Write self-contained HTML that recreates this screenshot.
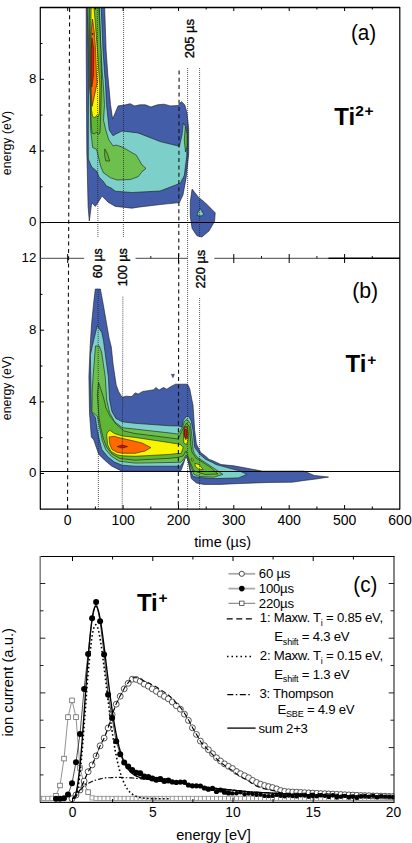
<!DOCTYPE html>
<html><head><meta charset="utf-8"><style>
html,body{margin:0;padding:0;background:#fff;}
svg{display:block;}
svg text{font-family:"Liberation Sans",sans-serif;}
</style></head><body>
<svg width="412" height="843" viewBox="0 0 412 843">
<rect width="412" height="843" fill="#fff"/>
<clipPath id="clipab"><rect x="40.5" y="7.5" width="359" height="501.5"/></clipPath>
<g clip-path="url(#clipab)">
<polygon points="86.2,0.0 86.2,50.0 86.5,100.0 86.8,150.0 88.1,206.4 89.3,221.0 91.7,202.8 95.3,206.4 97.8,202.8 102.0,196.1 108.1,202.2 115.4,206.4 132.0,208.2 138.0,207.2 160.0,204.6 179.4,202.6 183.0,194.9 186.2,177.4 188.7,154.0 188.7,128.8 186.9,112.5 184.7,104.8 181.4,101.6 178.1,105.5 170.5,105.9 164.0,104.2 157.4,104.8 150.9,107.0 145.4,104.8 139.9,104.8 134.5,105.9 130.1,103.7 125.7,104.8 118.1,105.9 112.6,119.0 110.5,104.6 108.3,80.0 107.9,76.0 106.1,50.0 104.4,0.0" fill="#435da8" stroke="#1a1a1a" stroke-width="0.6" stroke-linejoin="round" />
<polygon points="87.0,0.0 88.3,52.0 88.5,95.0 88.3,130.0 88.3,159.1 91.7,166.9 96.6,171.0 99.0,177.0 103.4,181.5 106.3,185.8 111.1,188.0 115.4,191.2 132.0,192.5 160.0,191.0 180.4,183.2 184.3,175.4 186.8,156.0 186.8,128.8 183.3,123.0 182.0,135.0 179.4,146.3 160.0,141.5 138.0,132.9 122.0,131.0 116.0,133.9 113.1,135.8 109.2,130.0 106.5,104.6 105.3,80.0 104.8,76.0 103.0,50.0 100.9,0.0" fill="#7dcfca" stroke="#1a1a1a" stroke-width="0.6" stroke-linejoin="round" />
<polygon points="87.6,0.0 88.8,52.0 89.5,88.0 90.3,95.0 90.7,130.0 92.7,147.5 96.6,149.4 98.0,155.2 100.9,166.9 103.4,172.7 110.2,177.6 117.0,180.0 130.5,179.5 138.3,176.6 142.0,171.7 146.0,168.4 142.0,164.9 136.3,155.2 124.7,148.4 122.0,147.0 116.0,145.0 113.1,146.0 108.7,139.7 105.8,130.0 103.5,120.2 104.5,104.6 103.0,80.0 102.5,76.0 100.9,50.0 99.1,0.0" fill="#6ec04e" stroke="#1a1a1a" stroke-width="0.6" stroke-linejoin="round" />
<polygon points="104.8,148.9 107.5,154.0 109.7,161.0 105.8,161.0 104.6,155.0" fill="#5fb634" stroke="#1a1a1a" stroke-width="0.6" stroke-linejoin="round" />
<polygon points="184.3,140.0 185.3,127.0 187.2,134.0 187.2,146.0 185.5,152.0" fill="#5fb634" stroke="#1a1a1a" stroke-width="0.6" stroke-linejoin="round" />
<polygon points="89.3,0.0 98.5,0.0 101.0,52.0 101.5,80.0 101.0,104.6 100.3,125.0 100.0,133.0 98.5,134.4 96.5,132.0 94.5,134.0 92.0,133.0 91.3,125.0 90.5,104.0 90.2,88.0 89.6,52.0" fill="#5fb634" stroke="#1a1a1a" stroke-width="0.6" stroke-linejoin="round" />
<polygon points="91.2,0.0 93.4,0.0 96.0,32.0 97.4,50.0 99.1,76.0 99.8,85.0 99.6,100.0 99.4,113.0 98.0,117.0 96.5,115.5 94.5,118.0 92.5,116.0 91.5,110.0 91.2,95.0 90.8,80.0 90.6,50.0 91.0,20.0" fill="#fbf400" stroke="#1a1a1a" stroke-width="0.6" stroke-linejoin="round" />
<polygon points="92.5,19.0 94.3,32.0 95.6,50.0 96.5,76.0 97.3,82.0 92.2,106.3 91.3,95.0 91.0,80.0 91.2,50.0 91.2,32.0" fill="#ff6900" stroke="#1a1a1a" stroke-width="0.6" stroke-linejoin="round" />
<polygon points="92.0,38.0 93.8,50.0 93.4,76.0 91.8,87.0 91.2,80.0 91.2,50.0" fill="#ea0f0c" stroke="#1a1a1a" stroke-width="0.6" stroke-linejoin="round" />
<circle cx="92.6" cy="34" r="0.9" fill="#222"/>
<polygon points="192.1,189.1 198.2,197.0 205.5,203.0 215.2,212.8 214.6,221.3 209.0,231.0 201.8,237.0 197.0,235.8 192.1,228.5 190.3,216.4 190.3,201.8" fill="#435da8" stroke="#1a1a1a" stroke-width="0.6" stroke-linejoin="round" />
<polygon points="200.0,208.3 203.9,214.5 201.0,215.9 197.0,215.6 198.5,211.0" fill="#7dcfca" stroke="#1a1a1a" stroke-width="0.6" stroke-linejoin="round" />
<polygon points="95.3,289.0 100.4,289.0 103.3,304.7 109.1,338.2 111.3,347.0 113.1,364.3 116.2,385.0 118.7,391.8 122.0,397.3 126.4,396.2 131.8,396.6 135.1,392.9 138.4,394.0 142.8,391.4 148.2,390.7 153.7,389.7 155.9,387.5 159.1,390.1 163.5,387.5 166.8,389.2 171.1,386.4 175.5,384.2 182.1,384.2 187.5,384.2 189.7,388.6 191.9,399.9 193.0,405.0 194.7,430.5 196.4,444.0 200.7,452.6 206.0,456.5 209.2,459.4 212.4,460.5 221.0,464.5 233.7,465.8 250.7,468.9 262.8,471.2 304.0,471.1 314.2,475.4 328.6,477.1 317.6,478.8 304.0,480.5 292.0,482.2 270.0,482.4 240.0,483.5 220.0,484.4 203.7,484.4 196.4,483.0 191.3,478.6 190.0,471.0 188.5,463.3 186.1,454.5 183.7,463.3 180.7,471.3 122.2,471.3 119.3,469.9 111.5,466.0 104.7,460.2 98.9,454.4 96.0,446.6 93.8,439.9 91.3,437.0 89.5,412.8 88.9,376.4 90.2,345.5 91.6,323.7 93.8,301.8" fill="#435da8" stroke="#1a1a1a" stroke-width="0.6" stroke-linejoin="round" />
<polygon points="97.2,325.9 101.8,332.4 103.4,340.0 108.3,376.4 109.6,400.0 112.0,411.7 115.9,418.4 122.2,421.8 135.0,423.3 170.0,425.8 178.0,425.9 182.0,427.1 183.3,420.3 186.2,416.6 188.8,416.6 191.3,421.1 193.0,430.5 194.7,447.5 199.8,454.3 205.8,459.4 212.0,462.3 216.0,464.5 238.5,470.6 247.0,474.3 238.5,477.9 214.3,478.6 199.0,477.5 193.0,476.4 190.5,470.0 188.8,462.0 186.1,456.5 183.3,462.0 180.5,466.2 135.0,466.2 122.2,465.2 114.4,462.1 107.6,456.6 101.8,449.5 99.4,440.0 97.0,429.1 95.5,417.7 91.3,411.6 90.7,376.0 90.4,355.0 92.4,345.5" fill="#7dcfca" stroke="#1a1a1a" stroke-width="0.6" stroke-linejoin="round" />
<polygon points="95.5,346.0 99.2,346.0 101.6,352.0 105.2,376.4 106.7,400.0 109.6,412.6 114.4,421.4 122.2,427.7 135.0,429.1 170.0,433.0 178.0,434.1 182.8,427.0 184.2,421.5 187.1,419.4 190.5,423.7 192.2,439.0 193.0,449.2 194.3,453.5 198.0,458.0 204.6,462.0 222.8,474.3 214.0,477.2 200.0,476.5 194.0,474.5 191.0,467.0 188.5,459.0 186.1,455.0 183.0,460.0 180.5,462.3 135.0,463.1 119.3,461.2 111.5,456.3 105.7,449.5 102.3,440.8 99.9,429.1 97.4,416.5 91.9,411.6 92.2,390.0 93.1,376.4" fill="#6ec04e" stroke="#1a1a1a" stroke-width="0.6" stroke-linejoin="round" />
<polygon points="98.6,382.5 103.4,397.0 106.0,408.0 110.0,416.0 116.0,424.0 124.0,431.0 135.0,433.5 170.0,437.9 178.0,439.0 183.5,428.0 186.5,423.0 189.8,427.0 190.8,445.0 192.0,452.0 196.0,458.0 210.0,467.0 218.0,474.0 205.0,474.5 194.0,471.0 190.0,462.0 187.5,455.0 186.0,451.0 183.0,456.0 178.0,457.4 170.0,458.3 135.0,460.2 120.0,458.5 112.0,454.0 106.5,447.0 103.5,439.0 101.0,429.0 99.0,417.7 97.3,394.6" fill="#5fb634" stroke="#1a1a1a" stroke-width="0.6" stroke-linejoin="round" />
<polygon points="107.1,433.0 109.6,430.1 114.4,433.5 122.2,435.9 135.0,437.4 170.0,442.7 177.0,443.8 181.0,444.8 183.2,447.7 181.0,453.5 177.0,453.5 170.0,454.4 135.0,456.3 122.2,455.8 117.3,454.9 111.0,451.5 107.6,444.7 106.7,435.0" fill="#fbf400" stroke="#1a1a1a" stroke-width="0.6" stroke-linejoin="round" />
<polygon points="194.8,463.3 199.0,464.5 203.1,469.6 199.0,469.4 195.5,466.5" fill="#fbf400" stroke="#1a1a1a" stroke-width="0.6" stroke-linejoin="round" />
<polygon points="191.4,458.4 193.4,459.5 193.0,461.3 191.4,460.5" fill="#fbf400" stroke="#1a1a1a" stroke-width="0.6" stroke-linejoin="round" />
<polygon points="184.2,427.0 187.4,426.5 188.3,434.0 187.8,441.0 186.5,444.5 183.8,443.0 183.5,434.0" fill="#fbf400" stroke="#1a1a1a" stroke-width="0.6" stroke-linejoin="round" />
<polygon points="109.1,436.9 114.4,436.4 120.2,437.9 132.0,440.6 142.0,443.0 150.9,447.6 145.0,451.0 135.0,453.3 122.2,453.2 117.3,452.4 112.0,449.5 109.6,443.7" fill="#ff6900" stroke="#1a1a1a" stroke-width="0.6" stroke-linejoin="round" />
<polygon points="184.5,427.5 187.0,427.0 187.8,433.0 187.3,438.5 185.5,439.5 184.3,434.0" fill="#ff6900" stroke="#1a1a1a" stroke-width="0.6" stroke-linejoin="round" />
<polygon points="117.3,446.6 122.2,445.1 127.5,446.6 122.2,448.1" fill="#ea0f0c" stroke="#1a1a1a" stroke-width="0.6" stroke-linejoin="round" />
<polygon points="184.6,429.5 186.4,429.3 186.8,434.0 186.2,438.0 185.0,438.0 184.4,434.0" fill="#ea0f0c" stroke="#1a1a1a" stroke-width="0.6" stroke-linejoin="round" />
<polygon points="171.3,374.3 174.5,374.3 172.9,377.8" fill="#435da8" stroke="#1a1a1a" stroke-width="0.4"/>
</g>
<line x1="69.6" y1="8" x2="67.5" y2="509" stroke="#111" stroke-width="1.1" stroke-dasharray="4 3.3"/>
<line x1="179.1" y1="70.5" x2="178.3" y2="509" stroke="#111" stroke-width="1.1" stroke-dasharray="4 3.3"/>
<line x1="97.3" y1="8" x2="97.9" y2="237.5" stroke="#222" stroke-width="0.75" stroke-dasharray="1 1"/>
<line x1="98.1" y1="290" x2="98.4" y2="509" stroke="#222" stroke-width="0.75" stroke-dasharray="1 1"/>
<line x1="123.6" y1="8" x2="123.4" y2="237.5" stroke="#222" stroke-width="0.75" stroke-dasharray="1 1"/>
<line x1="122.9" y1="296.7" x2="122.2" y2="509" stroke="#222" stroke-width="0.75" stroke-dasharray="1 1"/>
<line x1="187.6" y1="68" x2="187.6" y2="509" stroke="#222" stroke-width="0.75" stroke-dasharray="1 1"/>
<line x1="199.6" y1="68" x2="199.6" y2="237" stroke="#222" stroke-width="0.75" stroke-dasharray="1 1"/>
<line x1="199.6" y1="298" x2="199.6" y2="509" stroke="#222" stroke-width="0.75" stroke-dasharray="1 1"/>
<line x1="40" y1="7.5" x2="400" y2="7.5" stroke="#000" fill="none" stroke-width="1.3"/>
<line x1="40.3" y1="7" x2="40.3" y2="509.5" stroke="#000" fill="none" stroke-width="1.2"/>
<line x1="399.8" y1="7" x2="399.8" y2="509.5" stroke="#000" fill="none" stroke-width="1.2"/>
<line x1="40" y1="509.2" x2="400" y2="509.2" stroke="#000" fill="none" stroke-width="1.2"/>
<line x1="40" y1="222.5" x2="399" y2="222.5" stroke="#000" fill="none" stroke-width="1.1"/>
<line x1="40" y1="471.5" x2="400" y2="471.5" stroke="#000" fill="none" stroke-width="1.0"/>
<line x1="40" y1="258.3" x2="84.2" y2="258.3" stroke="#333" stroke-width="0.9"/>
<line x1="135.5" y1="258.3" x2="188" y2="258.3" stroke="#333" stroke-width="0.9"/>
<line x1="214.3" y1="258.3" x2="329" y2="258.3" stroke="#333" stroke-width="0.9"/>
<line x1="328.5" y1="258.3" x2="400" y2="258.3" stroke="#000" stroke-width="1.6"/>
<line x1="67.7" y1="7" x2="67.7" y2="11.0" stroke="#000" stroke-width="1"/>
<line x1="67.7" y1="509" x2="67.7" y2="505.0" stroke="#000" stroke-width="1"/>
<line x1="67.7" y1="254" x2="67.7" y2="263" stroke="#000" stroke-width="1"/>
<line x1="95.4" y1="7" x2="95.4" y2="9.5" stroke="#000" stroke-width="1"/>
<line x1="95.4" y1="509" x2="95.4" y2="506.5" stroke="#000" stroke-width="1"/>
<line x1="123.1" y1="7" x2="123.1" y2="11.0" stroke="#000" stroke-width="1"/>
<line x1="123.1" y1="509" x2="123.1" y2="505.0" stroke="#000" stroke-width="1"/>
<line x1="150.8" y1="7" x2="150.8" y2="9.5" stroke="#000" stroke-width="1"/>
<line x1="150.8" y1="509" x2="150.8" y2="506.5" stroke="#000" stroke-width="1"/>
<line x1="150.8" y1="256" x2="150.8" y2="258.3" stroke="#000" stroke-width="0.9"/>
<line x1="178.5" y1="7" x2="178.5" y2="11.0" stroke="#000" stroke-width="1"/>
<line x1="178.5" y1="509" x2="178.5" y2="505.0" stroke="#000" stroke-width="1"/>
<line x1="178.5" y1="254" x2="178.5" y2="263" stroke="#000" stroke-width="1"/>
<line x1="206.2" y1="7" x2="206.2" y2="9.5" stroke="#000" stroke-width="1"/>
<line x1="206.2" y1="509" x2="206.2" y2="506.5" stroke="#000" stroke-width="1"/>
<line x1="233.8" y1="7" x2="233.8" y2="11.0" stroke="#000" stroke-width="1"/>
<line x1="233.8" y1="509" x2="233.8" y2="505.0" stroke="#000" stroke-width="1"/>
<line x1="233.8" y1="254" x2="233.8" y2="263" stroke="#000" stroke-width="1"/>
<line x1="261.5" y1="7" x2="261.5" y2="9.5" stroke="#000" stroke-width="1"/>
<line x1="261.5" y1="509" x2="261.5" y2="506.5" stroke="#000" stroke-width="1"/>
<line x1="261.5" y1="256" x2="261.5" y2="258.3" stroke="#000" stroke-width="0.9"/>
<line x1="289.2" y1="7" x2="289.2" y2="11.0" stroke="#000" stroke-width="1"/>
<line x1="289.2" y1="509" x2="289.2" y2="505.0" stroke="#000" stroke-width="1"/>
<line x1="289.2" y1="254" x2="289.2" y2="263" stroke="#000" stroke-width="1"/>
<line x1="316.9" y1="7" x2="316.9" y2="9.5" stroke="#000" stroke-width="1"/>
<line x1="316.9" y1="509" x2="316.9" y2="506.5" stroke="#000" stroke-width="1"/>
<line x1="316.9" y1="256" x2="316.9" y2="258.3" stroke="#000" stroke-width="0.9"/>
<line x1="344.6" y1="7" x2="344.6" y2="11.0" stroke="#000" stroke-width="1"/>
<line x1="344.6" y1="509" x2="344.6" y2="505.0" stroke="#000" stroke-width="1"/>
<line x1="344.6" y1="254" x2="344.6" y2="263" stroke="#000" stroke-width="1"/>
<line x1="372.3" y1="7" x2="372.3" y2="9.5" stroke="#000" stroke-width="1"/>
<line x1="372.3" y1="509" x2="372.3" y2="506.5" stroke="#000" stroke-width="1"/>
<line x1="372.3" y1="256" x2="372.3" y2="258.3" stroke="#000" stroke-width="0.9"/>
<line x1="40" y1="222.6" x2="44" y2="222.6" stroke="#000" stroke-width="1"/>
<line x1="40" y1="186.8" x2="42.5" y2="186.8" stroke="#000" stroke-width="1"/>
<line x1="40" y1="151.0" x2="44" y2="151.0" stroke="#000" stroke-width="1"/>
<line x1="40" y1="115.1" x2="42.5" y2="115.1" stroke="#000" stroke-width="1"/>
<line x1="40" y1="79.3" x2="44" y2="79.3" stroke="#000" stroke-width="1"/>
<line x1="40" y1="43.5" x2="42.5" y2="43.5" stroke="#000" stroke-width="1"/>
<line x1="40" y1="473.5" x2="44" y2="473.5" stroke="#000" stroke-width="1"/>
<line x1="40" y1="437.7" x2="42.5" y2="437.7" stroke="#000" stroke-width="1"/>
<line x1="40" y1="401.9" x2="44" y2="401.9" stroke="#000" stroke-width="1"/>
<line x1="40" y1="366.0" x2="42.5" y2="366.0" stroke="#000" stroke-width="1"/>
<line x1="40" y1="330.2" x2="44" y2="330.2" stroke="#000" stroke-width="1"/>
<line x1="40" y1="294.4" x2="42.5" y2="294.4" stroke="#000" stroke-width="1"/>
<text x="36.4" y="226.1" font-size="13.3" text-anchor="end" font-family="Liberation Sans, sans-serif" >0</text>
<text x="36.4" y="154.45999999999998" font-size="13.3" text-anchor="end" font-family="Liberation Sans, sans-serif" >4</text>
<text x="36.4" y="82.82" font-size="13.3" text-anchor="end" font-family="Liberation Sans, sans-serif" >8</text>
<text x="36.4" y="477.0" font-size="13.3" text-anchor="end" font-family="Liberation Sans, sans-serif" >0</text>
<text x="36.4" y="405.36" font-size="13.3" text-anchor="end" font-family="Liberation Sans, sans-serif" >4</text>
<text x="36.4" y="333.72" font-size="13.3" text-anchor="end" font-family="Liberation Sans, sans-serif" >8</text>
<text x="36.4" y="262.08" font-size="13.3" text-anchor="end" font-family="Liberation Sans, sans-serif" >12</text>
<text transform="translate(10.5,143) rotate(-90)" font-size="12.3" text-anchor="middle" font-family="Liberation Sans, sans-serif">energy (eV)</text>
<text transform="translate(10.5,388) rotate(-90)" font-size="12.3" text-anchor="middle" font-family="Liberation Sans, sans-serif">energy (eV)</text>
<text x="67.7" y="525" font-size="14" text-anchor="middle" font-family="Liberation Sans, sans-serif" >0</text>
<text x="123.1" y="525" font-size="14" text-anchor="middle" font-family="Liberation Sans, sans-serif" >100</text>
<text x="178.5" y="525" font-size="14" text-anchor="middle" font-family="Liberation Sans, sans-serif" >200</text>
<text x="233.8" y="525" font-size="14" text-anchor="middle" font-family="Liberation Sans, sans-serif" >300</text>
<text x="289.2" y="525" font-size="14" text-anchor="middle" font-family="Liberation Sans, sans-serif" >400</text>
<text x="344.6" y="525" font-size="14" text-anchor="middle" font-family="Liberation Sans, sans-serif" >500</text>
<text x="400.0" y="525" font-size="14" text-anchor="middle" font-family="Liberation Sans, sans-serif" >600</text>
<text x="222.7" y="546.5" font-size="14.5" text-anchor="middle" font-family="Liberation Sans, sans-serif" >time (µs)</text>
<text x="363.6" y="39.8" font-size="22.5" text-anchor="middle" font-family="Liberation Sans, sans-serif" textLength="25.3" lengthAdjust="spacingAndGlyphs">(a)</text>
<text x="365.2" y="297.5" font-size="22.5" text-anchor="middle" font-family="Liberation Sans, sans-serif" textLength="26" lengthAdjust="spacingAndGlyphs">(b)</text>
<text x="334.3" y="124.5" font-size="24" font-weight="bold" font-family="Liberation Sans, sans-serif">Ti<tspan font-size="15.5" dy="-8.5" letter-spacing="0.6">2+</tspan></text>
<text x="345.6" y="372.2" font-size="24" font-weight="bold" font-family="Liberation Sans, sans-serif">Ti<tspan font-size="15.5" dy="-7.5" dx="0.8">+</tspan></text>
<text transform="translate(194.2,38.6) rotate(-90)" font-size="12.6" text-anchor="middle" stroke="#000" stroke-width="0.35" font-family="Liberation Sans, sans-serif" textLength="39.3" lengthAdjust="spacingAndGlyphs">205 µs</text>
<text transform="translate(102.3,263.3) rotate(-90)" font-size="12.2" text-anchor="middle" stroke="#000" stroke-width="0.35" font-family="Liberation Sans, sans-serif" textLength="30" lengthAdjust="spacingAndGlyphs">60 µs</text>
<text transform="translate(127.4,267.3) rotate(-90)" font-size="12.2" text-anchor="middle" stroke="#000" stroke-width="0.35" font-family="Liberation Sans, sans-serif" textLength="38" lengthAdjust="spacingAndGlyphs">100 µs</text>
<text transform="translate(205.2,269.2) rotate(-90)" font-size="12.4" text-anchor="middle" stroke="#000" stroke-width="0.35" font-family="Liberation Sans, sans-serif" textLength="38.8" lengthAdjust="spacingAndGlyphs">220 µs</text>
<clipPath id="clipc"><rect x="40" y="556" width="354.5" height="246"/></clipPath>
<g clip-path="url(#clipc)">
<polyline points="39.9,798.4 43.9,798.4 47.9,798.4 52.0,798.3 56.0,795.7 60.0,785.5 64.0,758.6 68.0,717.1 72.0,700.4 76.0,717.1 80.0,768.0 84.1,783.7 88.1,792.1 92.1,797.9 96.1,798.4 100.1,798.4 104.1,798.4 108.1,798.4 112.1,798.4 116.2,798.4 120.2,798.4 124.2,798.4 128.2,798.4 132.2,798.4 136.2,798.4 140.2,798.4 144.2,798.4 148.3,798.4 152.3,798.4 156.3,798.4 160.3,798.4 164.3,798.4 168.3,798.4 172.3,798.4 176.3,798.4 180.4,798.4 184.4,798.4 188.4,798.4 192.4,798.4 196.4,798.4 200.4,798.4 204.4,798.4 208.4,798.4 212.5,798.4 216.5,798.4 220.5,798.4 224.5,798.4 228.5,798.4 232.5,798.4 236.5,798.4 240.5,798.4 244.6,798.4 248.6,798.4 252.6,798.4 256.6,798.4 260.6,798.4 264.6,798.4 268.6,798.4 272.6,798.4 276.7,798.4 280.7,798.4 284.7,798.4 288.7,798.4 292.7,798.4 296.7,798.4 300.7,798.4 304.7,798.4 308.8,798.4 312.8,798.4 316.8,798.4 320.8,798.4 324.8,798.4 328.8,798.4 332.8,798.4 336.8,798.4 340.9,798.4 344.9,798.4 348.9,798.4 352.9,798.4 356.9,798.4 360.9,798.4 364.9,798.4 368.9,798.4 373.0,798.4 377.0,798.4 381.0,798.4 385.0,798.4 389.0,798.4 393.0,798.4" fill="none" stroke="#777" stroke-width="0.8"/>
<rect x="37.8" y="796.3" width="4.2" height="4.2" fill="#fff" stroke="#8a8a8a" stroke-width="0.8"/>
<rect x="41.8" y="796.3" width="4.2" height="4.2" fill="#fff" stroke="#8a8a8a" stroke-width="0.8"/>
<rect x="45.8" y="796.3" width="4.2" height="4.2" fill="#fff" stroke="#8a8a8a" stroke-width="0.8"/>
<rect x="49.9" y="796.2" width="4.2" height="4.2" fill="#fff" stroke="#8a8a8a" stroke-width="0.8"/>
<rect x="53.7" y="793.4" width="4.6" height="4.6" fill="#fff" stroke="#666" stroke-width="0.8"/>
<rect x="57.7" y="783.2" width="4.6" height="4.6" fill="#fff" stroke="#666" stroke-width="0.8"/>
<rect x="61.7" y="756.3" width="4.6" height="4.6" fill="#fff" stroke="#666" stroke-width="0.8"/>
<rect x="65.7" y="714.8" width="4.6" height="4.6" fill="#fff" stroke="#666" stroke-width="0.8"/>
<rect x="69.7" y="698.1" width="4.6" height="4.6" fill="#fff" stroke="#666" stroke-width="0.8"/>
<rect x="73.7" y="714.8" width="4.6" height="4.6" fill="#fff" stroke="#666" stroke-width="0.8"/>
<rect x="77.7" y="765.7" width="4.6" height="4.6" fill="#fff" stroke="#666" stroke-width="0.8"/>
<rect x="81.8" y="781.4" width="4.6" height="4.6" fill="#fff" stroke="#666" stroke-width="0.8"/>
<rect x="85.8" y="789.8" width="4.6" height="4.6" fill="#fff" stroke="#666" stroke-width="0.8"/>
<rect x="90.0" y="795.8" width="4.2" height="4.2" fill="#fff" stroke="#8a8a8a" stroke-width="0.8"/>
<rect x="94.0" y="796.3" width="4.2" height="4.2" fill="#fff" stroke="#8a8a8a" stroke-width="0.8"/>
<rect x="98.0" y="796.3" width="4.2" height="4.2" fill="#fff" stroke="#8a8a8a" stroke-width="0.8"/>
<rect x="102.0" y="796.3" width="4.2" height="4.2" fill="#fff" stroke="#8a8a8a" stroke-width="0.8"/>
<rect x="106.0" y="796.3" width="4.2" height="4.2" fill="#fff" stroke="#8a8a8a" stroke-width="0.8"/>
<rect x="110.0" y="796.3" width="4.2" height="4.2" fill="#fff" stroke="#8a8a8a" stroke-width="0.8"/>
<rect x="114.1" y="796.3" width="4.2" height="4.2" fill="#fff" stroke="#8a8a8a" stroke-width="0.8"/>
<rect x="118.1" y="796.3" width="4.2" height="4.2" fill="#fff" stroke="#8a8a8a" stroke-width="0.8"/>
<rect x="122.1" y="796.3" width="4.2" height="4.2" fill="#fff" stroke="#8a8a8a" stroke-width="0.8"/>
<rect x="126.1" y="796.3" width="4.2" height="4.2" fill="#fff" stroke="#8a8a8a" stroke-width="0.8"/>
<rect x="130.1" y="796.3" width="4.2" height="4.2" fill="#fff" stroke="#8a8a8a" stroke-width="0.8"/>
<rect x="134.1" y="796.3" width="4.2" height="4.2" fill="#fff" stroke="#8a8a8a" stroke-width="0.8"/>
<rect x="138.1" y="796.3" width="4.2" height="4.2" fill="#fff" stroke="#8a8a8a" stroke-width="0.8"/>
<rect x="142.1" y="796.3" width="4.2" height="4.2" fill="#fff" stroke="#8a8a8a" stroke-width="0.8"/>
<rect x="146.2" y="796.3" width="4.2" height="4.2" fill="#fff" stroke="#8a8a8a" stroke-width="0.8"/>
<rect x="150.2" y="796.3" width="4.2" height="4.2" fill="#fff" stroke="#8a8a8a" stroke-width="0.8"/>
<rect x="154.2" y="796.3" width="4.2" height="4.2" fill="#fff" stroke="#8a8a8a" stroke-width="0.8"/>
<rect x="158.2" y="796.3" width="4.2" height="4.2" fill="#fff" stroke="#8a8a8a" stroke-width="0.8"/>
<rect x="162.2" y="796.3" width="4.2" height="4.2" fill="#fff" stroke="#8a8a8a" stroke-width="0.8"/>
<rect x="166.2" y="796.3" width="4.2" height="4.2" fill="#fff" stroke="#8a8a8a" stroke-width="0.8"/>
<rect x="170.2" y="796.3" width="4.2" height="4.2" fill="#fff" stroke="#8a8a8a" stroke-width="0.8"/>
<rect x="174.2" y="796.3" width="4.2" height="4.2" fill="#fff" stroke="#8a8a8a" stroke-width="0.8"/>
<rect x="178.3" y="796.3" width="4.2" height="4.2" fill="#fff" stroke="#8a8a8a" stroke-width="0.8"/>
<rect x="182.3" y="796.3" width="4.2" height="4.2" fill="#fff" stroke="#8a8a8a" stroke-width="0.8"/>
<rect x="186.3" y="796.3" width="4.2" height="4.2" fill="#fff" stroke="#8a8a8a" stroke-width="0.8"/>
<rect x="190.3" y="796.3" width="4.2" height="4.2" fill="#fff" stroke="#8a8a8a" stroke-width="0.8"/>
<rect x="194.3" y="796.3" width="4.2" height="4.2" fill="#fff" stroke="#8a8a8a" stroke-width="0.8"/>
<rect x="198.3" y="796.3" width="4.2" height="4.2" fill="#fff" stroke="#8a8a8a" stroke-width="0.8"/>
<rect x="202.3" y="796.3" width="4.2" height="4.2" fill="#fff" stroke="#8a8a8a" stroke-width="0.8"/>
<rect x="206.3" y="796.3" width="4.2" height="4.2" fill="#fff" stroke="#8a8a8a" stroke-width="0.8"/>
<rect x="210.4" y="796.3" width="4.2" height="4.2" fill="#fff" stroke="#8a8a8a" stroke-width="0.8"/>
<rect x="214.4" y="796.3" width="4.2" height="4.2" fill="#fff" stroke="#8a8a8a" stroke-width="0.8"/>
<rect x="218.4" y="796.3" width="4.2" height="4.2" fill="#fff" stroke="#8a8a8a" stroke-width="0.8"/>
<rect x="222.4" y="796.3" width="4.2" height="4.2" fill="#fff" stroke="#8a8a8a" stroke-width="0.8"/>
<rect x="226.4" y="796.3" width="4.2" height="4.2" fill="#fff" stroke="#8a8a8a" stroke-width="0.8"/>
<rect x="230.4" y="796.3" width="4.2" height="4.2" fill="#fff" stroke="#8a8a8a" stroke-width="0.8"/>
<rect x="234.4" y="796.3" width="4.2" height="4.2" fill="#fff" stroke="#8a8a8a" stroke-width="0.8"/>
<rect x="238.4" y="796.3" width="4.2" height="4.2" fill="#fff" stroke="#8a8a8a" stroke-width="0.8"/>
<rect x="242.5" y="796.3" width="4.2" height="4.2" fill="#fff" stroke="#8a8a8a" stroke-width="0.8"/>
<rect x="246.5" y="796.3" width="4.2" height="4.2" fill="#fff" stroke="#8a8a8a" stroke-width="0.8"/>
<rect x="250.5" y="796.3" width="4.2" height="4.2" fill="#fff" stroke="#8a8a8a" stroke-width="0.8"/>
<rect x="254.5" y="796.3" width="4.2" height="4.2" fill="#fff" stroke="#8a8a8a" stroke-width="0.8"/>
<rect x="258.5" y="796.3" width="4.2" height="4.2" fill="#fff" stroke="#8a8a8a" stroke-width="0.8"/>
<rect x="262.5" y="796.3" width="4.2" height="4.2" fill="#fff" stroke="#8a8a8a" stroke-width="0.8"/>
<rect x="266.5" y="796.3" width="4.2" height="4.2" fill="#fff" stroke="#8a8a8a" stroke-width="0.8"/>
<rect x="270.5" y="796.3" width="4.2" height="4.2" fill="#fff" stroke="#8a8a8a" stroke-width="0.8"/>
<rect x="274.6" y="796.3" width="4.2" height="4.2" fill="#fff" stroke="#8a8a8a" stroke-width="0.8"/>
<rect x="278.6" y="796.3" width="4.2" height="4.2" fill="#fff" stroke="#8a8a8a" stroke-width="0.8"/>
<rect x="282.6" y="796.3" width="4.2" height="4.2" fill="#fff" stroke="#8a8a8a" stroke-width="0.8"/>
<rect x="286.6" y="796.3" width="4.2" height="4.2" fill="#fff" stroke="#8a8a8a" stroke-width="0.8"/>
<rect x="290.6" y="796.3" width="4.2" height="4.2" fill="#fff" stroke="#8a8a8a" stroke-width="0.8"/>
<rect x="294.6" y="796.3" width="4.2" height="4.2" fill="#fff" stroke="#8a8a8a" stroke-width="0.8"/>
<rect x="298.6" y="796.3" width="4.2" height="4.2" fill="#fff" stroke="#8a8a8a" stroke-width="0.8"/>
<rect x="302.6" y="796.3" width="4.2" height="4.2" fill="#fff" stroke="#8a8a8a" stroke-width="0.8"/>
<rect x="306.7" y="796.3" width="4.2" height="4.2" fill="#fff" stroke="#8a8a8a" stroke-width="0.8"/>
<rect x="310.7" y="796.3" width="4.2" height="4.2" fill="#fff" stroke="#8a8a8a" stroke-width="0.8"/>
<rect x="314.7" y="796.3" width="4.2" height="4.2" fill="#fff" stroke="#8a8a8a" stroke-width="0.8"/>
<rect x="318.7" y="796.3" width="4.2" height="4.2" fill="#fff" stroke="#8a8a8a" stroke-width="0.8"/>
<rect x="322.7" y="796.3" width="4.2" height="4.2" fill="#fff" stroke="#8a8a8a" stroke-width="0.8"/>
<rect x="326.7" y="796.3" width="4.2" height="4.2" fill="#fff" stroke="#8a8a8a" stroke-width="0.8"/>
<rect x="330.7" y="796.3" width="4.2" height="4.2" fill="#fff" stroke="#8a8a8a" stroke-width="0.8"/>
<rect x="334.7" y="796.3" width="4.2" height="4.2" fill="#fff" stroke="#8a8a8a" stroke-width="0.8"/>
<rect x="338.8" y="796.3" width="4.2" height="4.2" fill="#fff" stroke="#8a8a8a" stroke-width="0.8"/>
<rect x="342.8" y="796.3" width="4.2" height="4.2" fill="#fff" stroke="#8a8a8a" stroke-width="0.8"/>
<rect x="346.8" y="796.3" width="4.2" height="4.2" fill="#fff" stroke="#8a8a8a" stroke-width="0.8"/>
<rect x="350.8" y="796.3" width="4.2" height="4.2" fill="#fff" stroke="#8a8a8a" stroke-width="0.8"/>
<rect x="354.8" y="796.3" width="4.2" height="4.2" fill="#fff" stroke="#8a8a8a" stroke-width="0.8"/>
<rect x="358.8" y="796.3" width="4.2" height="4.2" fill="#fff" stroke="#8a8a8a" stroke-width="0.8"/>
<rect x="362.8" y="796.3" width="4.2" height="4.2" fill="#fff" stroke="#8a8a8a" stroke-width="0.8"/>
<rect x="366.8" y="796.3" width="4.2" height="4.2" fill="#fff" stroke="#8a8a8a" stroke-width="0.8"/>
<rect x="370.9" y="796.3" width="4.2" height="4.2" fill="#fff" stroke="#8a8a8a" stroke-width="0.8"/>
<rect x="374.9" y="796.3" width="4.2" height="4.2" fill="#fff" stroke="#8a8a8a" stroke-width="0.8"/>
<rect x="378.9" y="796.3" width="4.2" height="4.2" fill="#fff" stroke="#8a8a8a" stroke-width="0.8"/>
<rect x="382.9" y="796.3" width="4.2" height="4.2" fill="#fff" stroke="#8a8a8a" stroke-width="0.8"/>
<rect x="386.9" y="796.3" width="4.2" height="4.2" fill="#fff" stroke="#8a8a8a" stroke-width="0.8"/>
<rect x="390.9" y="796.3" width="4.2" height="4.2" fill="#fff" stroke="#8a8a8a" stroke-width="0.8"/>
<polyline points="72.0,798.7 76.0,795.0 80.0,790.0 84.1,781.1 88.1,771.7 92.1,764.9 96.1,755.9 100.1,745.8 104.1,738.1 108.1,728.0 112.1,714.5 116.2,704.2 120.2,696.2 124.2,688.8 128.2,683.3 132.2,679.2 136.2,679.4 140.2,681.2 144.2,684.1 148.3,686.2 152.3,688.9 156.3,691.3 160.3,694.1 164.3,696.4 168.3,698.8 172.3,702.0 176.3,705.7 180.4,709.2 184.4,714.2 188.4,720.4 192.4,727.8 196.4,734.4 200.4,741.1 204.4,745.7 208.4,749.7 212.5,753.7 216.5,757.7 220.5,761.0 224.5,763.9 228.5,766.3 232.5,768.5 236.5,771.5 240.5,773.7 244.6,775.7 248.6,777.7 252.6,780.4 256.6,782.5 260.6,784.2 264.6,785.5 268.6,786.6 272.6,787.6 276.7,788.9 280.7,790.5 284.7,791.4 288.7,791.8 292.7,792.0 296.7,792.2 300.7,792.4 304.7,792.7 308.8,792.9 312.8,793.1 316.8,793.3 320.8,793.6 324.8,793.7 328.8,793.9 332.8,794.1 336.8,794.3 340.9,794.5 344.9,794.7 348.9,794.9 352.9,795.1 356.9,795.3 360.9,795.5 364.9,795.6 368.9,795.7 373.0,795.9 377.0,796.0 381.0,796.1 385.0,796.2 389.0,796.4 393.0,796.5" fill="none" stroke="#444" stroke-width="0.8"/>
<circle cx="72.0" cy="798.7" r="2.95" fill="#fff" stroke="#222" stroke-width="0.75"/>
<circle cx="76.0" cy="795.0" r="2.95" fill="#fff" stroke="#222" stroke-width="0.75"/>
<circle cx="80.0" cy="790.0" r="2.95" fill="#fff" stroke="#222" stroke-width="0.75"/>
<circle cx="84.1" cy="781.1" r="2.95" fill="#fff" stroke="#222" stroke-width="0.75"/>
<circle cx="88.1" cy="771.7" r="2.95" fill="#fff" stroke="#222" stroke-width="0.75"/>
<circle cx="92.1" cy="764.9" r="2.95" fill="#fff" stroke="#222" stroke-width="0.75"/>
<circle cx="96.1" cy="755.9" r="2.95" fill="#fff" stroke="#222" stroke-width="0.75"/>
<circle cx="100.1" cy="745.8" r="2.95" fill="#fff" stroke="#222" stroke-width="0.75"/>
<circle cx="104.1" cy="738.1" r="2.95" fill="#fff" stroke="#222" stroke-width="0.75"/>
<circle cx="108.1" cy="728.0" r="2.95" fill="#fff" stroke="#222" stroke-width="0.75"/>
<circle cx="112.1" cy="714.5" r="2.95" fill="#fff" stroke="#222" stroke-width="0.75"/>
<circle cx="116.2" cy="704.2" r="2.95" fill="#fff" stroke="#222" stroke-width="0.75"/>
<circle cx="120.2" cy="696.2" r="2.95" fill="#fff" stroke="#222" stroke-width="0.75"/>
<circle cx="124.2" cy="688.8" r="2.95" fill="#fff" stroke="#222" stroke-width="0.75"/>
<circle cx="128.2" cy="683.3" r="2.95" fill="#fff" stroke="#222" stroke-width="0.75"/>
<circle cx="132.2" cy="679.2" r="2.95" fill="#fff" stroke="#222" stroke-width="0.75"/>
<circle cx="136.2" cy="679.4" r="2.95" fill="#fff" stroke="#222" stroke-width="0.75"/>
<circle cx="140.2" cy="681.2" r="2.95" fill="#fff" stroke="#222" stroke-width="0.75"/>
<circle cx="144.2" cy="684.1" r="2.95" fill="#fff" stroke="#222" stroke-width="0.75"/>
<circle cx="148.3" cy="686.2" r="2.95" fill="#fff" stroke="#222" stroke-width="0.75"/>
<circle cx="152.3" cy="688.9" r="2.95" fill="#fff" stroke="#222" stroke-width="0.75"/>
<circle cx="156.3" cy="691.3" r="2.95" fill="#fff" stroke="#222" stroke-width="0.75"/>
<circle cx="160.3" cy="694.1" r="2.95" fill="#fff" stroke="#222" stroke-width="0.75"/>
<circle cx="164.3" cy="696.4" r="2.95" fill="#fff" stroke="#222" stroke-width="0.75"/>
<circle cx="168.3" cy="698.8" r="2.95" fill="#fff" stroke="#222" stroke-width="0.75"/>
<circle cx="172.3" cy="702.0" r="2.95" fill="#fff" stroke="#222" stroke-width="0.75"/>
<circle cx="176.3" cy="705.7" r="2.95" fill="#fff" stroke="#222" stroke-width="0.75"/>
<circle cx="180.4" cy="709.2" r="2.95" fill="#fff" stroke="#222" stroke-width="0.75"/>
<circle cx="184.4" cy="714.2" r="2.95" fill="#fff" stroke="#222" stroke-width="0.75"/>
<circle cx="188.4" cy="720.4" r="2.95" fill="#fff" stroke="#222" stroke-width="0.75"/>
<circle cx="192.4" cy="727.8" r="2.95" fill="#fff" stroke="#222" stroke-width="0.75"/>
<circle cx="196.4" cy="734.4" r="2.95" fill="#fff" stroke="#222" stroke-width="0.75"/>
<circle cx="200.4" cy="741.1" r="2.95" fill="#fff" stroke="#222" stroke-width="0.75"/>
<circle cx="204.4" cy="745.7" r="2.95" fill="#fff" stroke="#222" stroke-width="0.75"/>
<circle cx="208.4" cy="749.7" r="2.95" fill="#fff" stroke="#222" stroke-width="0.75"/>
<circle cx="212.5" cy="753.7" r="2.95" fill="#fff" stroke="#222" stroke-width="0.75"/>
<circle cx="216.5" cy="757.7" r="2.95" fill="#fff" stroke="#222" stroke-width="0.75"/>
<circle cx="220.5" cy="761.0" r="2.95" fill="#fff" stroke="#222" stroke-width="0.75"/>
<circle cx="224.5" cy="763.9" r="2.95" fill="#fff" stroke="#222" stroke-width="0.75"/>
<circle cx="228.5" cy="766.3" r="2.95" fill="#fff" stroke="#222" stroke-width="0.75"/>
<circle cx="232.5" cy="768.5" r="2.95" fill="#fff" stroke="#222" stroke-width="0.75"/>
<circle cx="236.5" cy="771.5" r="2.95" fill="#fff" stroke="#222" stroke-width="0.75"/>
<circle cx="240.5" cy="773.7" r="2.95" fill="#fff" stroke="#222" stroke-width="0.75"/>
<circle cx="244.6" cy="775.7" r="2.95" fill="#fff" stroke="#222" stroke-width="0.75"/>
<circle cx="248.6" cy="777.7" r="2.95" fill="#fff" stroke="#222" stroke-width="0.75"/>
<circle cx="252.6" cy="780.4" r="2.95" fill="#fff" stroke="#222" stroke-width="0.75"/>
<circle cx="256.6" cy="782.5" r="2.95" fill="#fff" stroke="#222" stroke-width="0.75"/>
<circle cx="260.6" cy="784.2" r="2.95" fill="#fff" stroke="#222" stroke-width="0.75"/>
<circle cx="264.6" cy="785.5" r="2.95" fill="#fff" stroke="#222" stroke-width="0.75"/>
<circle cx="268.6" cy="786.6" r="2.95" fill="#fff" stroke="#222" stroke-width="0.75"/>
<circle cx="272.6" cy="787.6" r="2.95" fill="#fff" stroke="#222" stroke-width="0.75"/>
<circle cx="276.7" cy="788.9" r="2.95" fill="#fff" stroke="#222" stroke-width="0.75"/>
<circle cx="280.7" cy="790.5" r="2.95" fill="#fff" stroke="#222" stroke-width="0.75"/>
<circle cx="284.7" cy="791.4" r="2.95" fill="#fff" stroke="#222" stroke-width="0.75"/>
<circle cx="288.7" cy="791.8" r="2.95" fill="#fff" stroke="#222" stroke-width="0.75"/>
<circle cx="292.7" cy="792.0" r="2.95" fill="#fff" stroke="#222" stroke-width="0.75"/>
<circle cx="296.7" cy="792.2" r="2.95" fill="#fff" stroke="#222" stroke-width="0.75"/>
<circle cx="300.7" cy="792.4" r="2.95" fill="#fff" stroke="#222" stroke-width="0.75"/>
<circle cx="304.7" cy="792.7" r="2.95" fill="#fff" stroke="#222" stroke-width="0.75"/>
<circle cx="308.8" cy="792.9" r="2.95" fill="#fff" stroke="#222" stroke-width="0.75"/>
<circle cx="312.8" cy="793.1" r="2.95" fill="#fff" stroke="#222" stroke-width="0.75"/>
<circle cx="316.8" cy="793.3" r="2.95" fill="#fff" stroke="#222" stroke-width="0.75"/>
<circle cx="320.8" cy="793.6" r="2.95" fill="#fff" stroke="#222" stroke-width="0.75"/>
<circle cx="324.8" cy="793.7" r="2.95" fill="#fff" stroke="#222" stroke-width="0.75"/>
<circle cx="328.8" cy="793.9" r="2.95" fill="#fff" stroke="#222" stroke-width="0.75"/>
<circle cx="332.8" cy="794.1" r="2.95" fill="#fff" stroke="#222" stroke-width="0.75"/>
<circle cx="336.8" cy="794.3" r="2.95" fill="#fff" stroke="#222" stroke-width="0.75"/>
<circle cx="340.9" cy="794.5" r="2.95" fill="#fff" stroke="#222" stroke-width="0.75"/>
<circle cx="344.9" cy="794.7" r="2.95" fill="#fff" stroke="#222" stroke-width="0.75"/>
<circle cx="348.9" cy="794.9" r="2.95" fill="#fff" stroke="#222" stroke-width="0.75"/>
<circle cx="352.9" cy="795.1" r="2.95" fill="#fff" stroke="#222" stroke-width="0.75"/>
<circle cx="356.9" cy="795.3" r="2.95" fill="#fff" stroke="#222" stroke-width="0.75"/>
<circle cx="360.9" cy="795.5" r="2.95" fill="#fff" stroke="#222" stroke-width="0.75"/>
<circle cx="364.9" cy="795.6" r="2.95" fill="#fff" stroke="#222" stroke-width="0.75"/>
<circle cx="368.9" cy="795.7" r="2.95" fill="#fff" stroke="#222" stroke-width="0.75"/>
<circle cx="373.0" cy="795.9" r="2.95" fill="#fff" stroke="#222" stroke-width="0.75"/>
<circle cx="377.0" cy="796.0" r="2.95" fill="#fff" stroke="#222" stroke-width="0.75"/>
<circle cx="381.0" cy="796.1" r="2.95" fill="#fff" stroke="#222" stroke-width="0.75"/>
<circle cx="385.0" cy="796.2" r="2.95" fill="#fff" stroke="#222" stroke-width="0.75"/>
<circle cx="389.0" cy="796.4" r="2.95" fill="#fff" stroke="#222" stroke-width="0.75"/>
<circle cx="393.0" cy="796.5" r="2.95" fill="#fff" stroke="#222" stroke-width="0.75"/>
<polyline points="56.0,798.7 60.0,798.7 64.0,798.2 68.0,794.6 72.0,783.3 76.0,762.2 80.0,733.9 84.1,688.9 88.1,654.0 92.1,618.3 96.1,602.0 100.1,621.2 104.1,654.4 108.1,694.8 112.1,718.1 116.2,741.3 120.2,754.2 124.2,762.6 128.2,766.4 132.2,769.9 136.2,772.8 140.2,773.3 144.2,776.5 148.3,777.1 152.3,778.5 156.3,779.8 160.3,779.1 164.3,780.9 168.3,780.4 172.3,781.9 176.3,782.4 180.4,782.1 184.4,782.1 188.4,785.0 192.4,785.8 196.4,785.8 200.4,786.0 204.4,788.0 208.4,789.2 212.5,788.4 216.5,791.5 220.5,790.0 224.5,792.2 228.5,792.9 232.5,793.4 236.5,793.3 240.5,792.3 244.6,794.3 248.6,793.6 252.6,793.9 256.6,794.7 260.6,794.5 264.6,795.9 268.6,796.1 272.6,795.9 276.7,794.9 280.7,795.7 284.7,796.2 288.7,795.6 292.7,796.0 296.7,796.4 300.7,795.2 304.7,795.5 308.8,796.8 312.8,796.0 316.8,796.2 320.8,795.4 324.8,795.8 328.8,797.0 332.8,795.3 336.8,797.5 340.9,796.8 344.9,795.9 348.9,797.5 352.9,796.7 356.9,797.9 360.9,796.3 364.9,796.0 368.9,796.6 373.0,795.8 377.0,797.3 381.0,796.3 385.0,796.6 389.0,796.7 393.0,797.0" fill="none" stroke="#222" stroke-width="0.8"/>
<circle cx="56.0" cy="798.7" r="3.0" fill="#000"/>
<circle cx="60.0" cy="798.7" r="3.0" fill="#000"/>
<circle cx="64.0" cy="798.2" r="3.0" fill="#000"/>
<circle cx="68.0" cy="794.6" r="3.0" fill="#000"/>
<circle cx="72.0" cy="783.3" r="3.0" fill="#000"/>
<circle cx="76.0" cy="762.2" r="3.0" fill="#000"/>
<circle cx="80.0" cy="733.9" r="3.0" fill="#000"/>
<circle cx="84.1" cy="688.9" r="3.0" fill="#000"/>
<circle cx="88.1" cy="654.0" r="3.0" fill="#000"/>
<circle cx="92.1" cy="618.3" r="3.0" fill="#000"/>
<circle cx="96.1" cy="602.0" r="3.0" fill="#000"/>
<circle cx="100.1" cy="621.2" r="3.0" fill="#000"/>
<circle cx="104.1" cy="654.4" r="3.0" fill="#000"/>
<circle cx="108.1" cy="694.8" r="3.0" fill="#000"/>
<circle cx="112.1" cy="718.1" r="3.0" fill="#000"/>
<circle cx="116.2" cy="741.3" r="3.0" fill="#000"/>
<circle cx="120.2" cy="754.2" r="3.0" fill="#000"/>
<circle cx="124.2" cy="762.6" r="3.0" fill="#000"/>
<circle cx="128.2" cy="766.4" r="3.0" fill="#000"/>
<circle cx="132.2" cy="769.9" r="3.0" fill="#000"/>
<circle cx="136.2" cy="772.8" r="3.0" fill="#000"/>
<circle cx="140.2" cy="773.3" r="3.0" fill="#000"/>
<circle cx="144.2" cy="776.5" r="3.0" fill="#000"/>
<circle cx="148.3" cy="777.1" r="3.0" fill="#000"/>
<circle cx="152.3" cy="778.5" r="3.0" fill="#000"/>
<circle cx="156.3" cy="779.8" r="3.0" fill="#000"/>
<circle cx="160.3" cy="779.1" r="3.0" fill="#000"/>
<circle cx="164.3" cy="780.9" r="3.0" fill="#000"/>
<circle cx="168.3" cy="780.4" r="3.0" fill="#000"/>
<circle cx="172.3" cy="781.9" r="2.6" fill="#000"/>
<circle cx="176.3" cy="782.4" r="2.6" fill="#000"/>
<circle cx="180.4" cy="782.1" r="2.6" fill="#000"/>
<circle cx="184.4" cy="782.1" r="2.6" fill="#000"/>
<circle cx="188.4" cy="785.0" r="2.6" fill="#000"/>
<circle cx="192.4" cy="785.8" r="2.6" fill="#000"/>
<circle cx="196.4" cy="785.8" r="2.6" fill="#000"/>
<circle cx="200.4" cy="786.0" r="2.6" fill="#000"/>
<circle cx="204.4" cy="788.0" r="2.6" fill="#000"/>
<circle cx="208.4" cy="789.2" r="2.6" fill="#000"/>
<circle cx="212.5" cy="788.4" r="2.6" fill="#000"/>
<circle cx="216.5" cy="791.5" r="2.6" fill="#000"/>
<circle cx="220.5" cy="790.0" r="2.6" fill="#000"/>
<circle cx="224.5" cy="792.2" r="2.6" fill="#000"/>
<circle cx="228.5" cy="792.9" r="2.6" fill="#000"/>
<circle cx="232.5" cy="793.4" r="2.2" fill="#000"/>
<circle cx="236.5" cy="793.3" r="2.2" fill="#000"/>
<circle cx="240.5" cy="792.3" r="2.2" fill="#000"/>
<circle cx="244.6" cy="794.3" r="2.2" fill="#000"/>
<circle cx="248.6" cy="793.6" r="2.2" fill="#000"/>
<circle cx="252.6" cy="793.9" r="2.2" fill="#000"/>
<circle cx="256.6" cy="794.7" r="2.2" fill="#000"/>
<circle cx="260.6" cy="794.5" r="2.2" fill="#000"/>
<circle cx="264.6" cy="795.9" r="2.2" fill="#000"/>
<circle cx="268.6" cy="796.1" r="2.2" fill="#000"/>
<circle cx="272.6" cy="795.9" r="2.2" fill="#000"/>
<circle cx="276.7" cy="794.9" r="2.2" fill="#000"/>
<circle cx="280.7" cy="795.7" r="2.2" fill="#000"/>
<circle cx="284.7" cy="796.2" r="2.2" fill="#000"/>
<circle cx="288.7" cy="795.6" r="2.2" fill="#000"/>
<circle cx="292.7" cy="796.0" r="2.2" fill="#000"/>
<circle cx="296.7" cy="796.4" r="2.2" fill="#000"/>
<circle cx="300.7" cy="795.2" r="2.2" fill="#000"/>
<circle cx="304.7" cy="795.5" r="2.2" fill="#000"/>
<circle cx="308.8" cy="796.8" r="2.2" fill="#000"/>
<circle cx="312.8" cy="796.0" r="2.2" fill="#000"/>
<circle cx="316.8" cy="796.2" r="2.2" fill="#000"/>
<circle cx="320.8" cy="795.4" r="2.2" fill="#000"/>
<circle cx="324.8" cy="795.8" r="2.2" fill="#000"/>
<circle cx="328.8" cy="797.0" r="2.2" fill="#000"/>
<circle cx="332.8" cy="795.3" r="2.2" fill="#000"/>
<circle cx="336.8" cy="797.5" r="2.2" fill="#000"/>
<circle cx="340.9" cy="796.8" r="2.2" fill="#000"/>
<circle cx="344.9" cy="795.9" r="2.2" fill="#000"/>
<circle cx="348.9" cy="797.5" r="2.2" fill="#000"/>
<circle cx="352.9" cy="796.7" r="2.2" fill="#000"/>
<circle cx="356.9" cy="797.9" r="2.2" fill="#000"/>
<circle cx="360.9" cy="796.3" r="2.2" fill="#000"/>
<circle cx="364.9" cy="796.0" r="2.2" fill="#000"/>
<circle cx="368.9" cy="796.6" r="2.2" fill="#000"/>
<circle cx="373.0" cy="795.8" r="2.2" fill="#000"/>
<circle cx="377.0" cy="797.3" r="2.2" fill="#000"/>
<circle cx="381.0" cy="796.3" r="2.2" fill="#000"/>
<circle cx="385.0" cy="796.6" r="2.2" fill="#000"/>
<circle cx="389.0" cy="796.7" r="2.2" fill="#000"/>
<circle cx="393.0" cy="797.0" r="2.2" fill="#000"/>
<polyline points="72.5,798.7 73.3,797.9 74.1,797.0 74.9,796.2 75.7,795.3 76.5,794.4 77.3,793.4 78.1,792.4 78.9,791.4 79.7,790.4 80.5,788.9 81.3,787.2 82.1,785.4 82.9,783.6 83.7,781.8 84.5,780.0 85.3,778.1 86.1,776.2 86.9,774.3 87.7,772.5 88.6,770.9 89.4,769.5 90.2,768.2 91.0,766.8 91.8,765.5 92.6,764.0 93.4,762.2 94.2,760.4 95.0,758.5 95.8,756.7 96.6,754.6 97.4,752.5 98.2,750.4 99.0,748.4 99.8,746.4 100.6,744.9 101.4,743.3 102.2,741.8 103.0,740.3 103.8,738.7 104.6,737.2 105.4,735.1 106.2,733.0 107.0,730.9 107.8,728.8 108.6,726.3 109.4,723.5 110.2,720.8 111.0,718.0 111.8,715.2 112.6,713.2 113.4,711.1 114.2,709.1 115.0,707.0 115.8,704.9 116.6,703.1 117.4,701.5 118.2,699.9 119.0,698.3 119.8,696.6 120.6,695.1 121.5,693.6 122.3,692.0 123.1,690.5 123.9,689.0 124.7,687.5 125.5,686.4 126.3,685.3 127.1,684.2 127.9,683.1 128.7,682.1 129.5,681.2 130.3,680.3 131.1,679.4 131.9,678.5 132.7,677.8 133.5,677.8 134.3,677.8 135.1,677.8 135.9,677.8 136.7,677.8 137.5,678.1 138.3,678.4 139.1,678.7 139.9,678.9 140.7,679.2 141.5,679.7 142.3,680.1 143.1,680.6 143.9,681.0 144.7,681.4 145.5,681.7 146.3,682.0 147.1,682.3 147.9,682.6 148.7,682.9 149.5,683.3 150.3,683.7 151.1,684.2 151.9,684.6 152.7,685.0 153.6,685.5 154.4,685.9 155.2,686.3 156.0,686.7 156.8,687.2 157.6,687.7 158.4,688.2 159.2,688.8 160.0,689.3 160.8,689.9 161.6,690.4 162.4,690.9 163.2,691.4 164.0,691.9 164.8,692.4 165.6,693.0 166.4,693.5 167.2,694.1 168.0,694.7 168.8,695.4 169.6,696.1 170.4,696.9 171.2,697.7 172.0,698.5 172.8,699.3 173.6,700.1 174.4,701.0 175.2,701.9 176.0,702.8 176.8,703.7 177.6,704.5 178.4,705.4 179.2,706.2 180.0,707.1 180.8,707.9 181.6,709.0 182.4,710.2 183.2,711.3 184.0,712.5 184.8,713.7 185.7,715.1 186.5,716.4 187.3,717.8 188.1,719.1 188.9,720.5 189.7,722.1 190.5,723.7 191.3,725.2 192.1,726.8 192.9,728.4 193.7,729.7 194.5,731.1 195.3,732.4 196.1,733.8 196.9,735.1 197.7,736.5 198.5,737.9 199.3,739.3 200.1,740.7 200.9,742.0 201.7,743.2 202.5,744.0 203.3,744.9 204.1,745.7 204.9,746.5 205.7,747.4 206.5,748.2 207.3,749.1 208.1,749.9 208.9,750.7 209.7,751.6 210.5,752.4 211.3,753.3 212.1,754.1 212.9,754.9 213.7,755.8 214.5,756.6 215.3,757.5 216.1,758.3 216.9,759.2 217.8,760.0 218.6,760.6 219.4,761.3 220.2,761.9 221.0,762.6 221.8,763.3 222.6,763.9 223.4,764.5 224.2,765.1 225.0,765.7 225.8,766.3 226.6,767.0 227.4,767.5 228.2,767.9 229.0,768.4 229.8,768.9 230.6,769.4 231.4,769.8 232.2,770.4 233.0,771.0 233.8,771.7 234.6,772.4 235.4,773.0 236.2,773.7 237.0,774.4 237.8,774.9 238.6,775.4 239.4,775.9 240.2,776.4 241.0,776.8 241.8,777.3 242.6,777.8 243.4,778.2 244.2,778.6 245.0,779.1 245.8,779.5 246.6,779.9 247.4,780.3 248.2,780.8 249.1,781.4 249.9,781.9 250.7,782.5 251.5,783.0 252.3,783.6 253.1,784.1 253.9,784.6 254.7,785.0 255.5,785.5 256.3,785.9 257.1,786.3 257.9,786.7 258.7,787.1 259.5,787.3 260.3,787.6 261.1,787.8 261.9,788.1 262.7,788.3 263.5,788.6 264.3,788.8 265.1,789.0 265.9,789.2 266.7,789.3 267.5,789.5 268.3,789.7 269.1,789.8 269.9,790.0 270.7,790.1 271.5,790.3 272.3,790.4 273.1,790.6 273.9,790.7 274.7,790.8 275.5,791.1 276.3,791.4 277.1,791.6 277.9,791.9 278.7,792.2 279.5,792.4 280.3,792.6 281.2,792.8 282.0,792.9 282.8,793.0 283.6,793.1 284.4,793.3 285.2,793.4 286.0,793.4 286.8,793.4 287.6,793.4 288.4,793.4 289.2,793.3 290.0,793.3 290.8,793.3 291.6,793.3 292.4,793.3 293.2,793.3 294.0,793.2 294.8,793.2 295.6,793.2 296.4,793.2 297.2,793.2 298.0,793.2 298.8,793.2 299.6,793.2 300.4,793.2 301.2,793.2 302.0,793.2 302.8,793.2 303.6,793.2 304.4,793.2 305.2,793.2 306.0,793.3 306.8,793.3 307.6,793.3 308.4,793.3 309.2,793.3 310.0,793.3 310.8,793.4 311.6,793.4 312.4,793.4 313.3,793.4 314.1,793.4 314.9,793.5 315.7,793.5 316.5,793.5 317.3,793.6 318.1,793.6 318.9,793.6 319.7,793.7 320.5,793.7 321.3,793.7 322.1,793.7 322.9,793.8 323.7,793.8 324.5,793.8 325.3,793.9 326.1,793.9 326.9,793.9 327.7,793.9 328.5,794.0 329.3,794.0 330.1,794.0 330.9,794.1 331.7,794.1 332.5,794.2 333.3,794.2 334.1,794.2 334.9,794.3 335.7,794.3 336.5,794.3 337.3,794.4 338.1,794.4 338.9,794.4 339.7,794.5 340.5,794.5 341.3,794.6 342.1,794.6 342.9,794.6 343.7,794.7 344.5,794.7 345.4,794.7 346.2,794.8 347.0,794.8 347.8,794.9 348.6,794.9 349.4,794.9 350.2,795.0 351.0,795.0 351.8,795.0 352.6,795.1 353.4,795.1 354.2,795.2 355.0,795.2 355.8,795.2 356.6,795.3 357.4,795.3 358.2,795.3 359.0,795.4 359.8,795.4 360.6,795.5 361.4,795.5 362.2,795.5 363.0,795.6 363.8,795.6 364.6,795.6 365.4,795.6 366.2,795.7 367.0,795.7 367.8,795.7 368.6,795.7 369.4,795.8 370.2,795.8 371.0,795.8 371.8,795.8 372.6,795.9 373.4,795.9 374.2,795.9 375.0,795.9 375.8,796.0 376.6,796.0 377.5,796.0 378.3,796.0 379.1,796.1 379.9,796.1 380.7,796.1 381.5,796.1 382.3,796.2 383.1,796.2 383.9,796.2 384.7,796.2 385.5,796.3 386.3,796.3 387.1,796.3 387.9,796.3 388.7,796.4 389.5,796.4 390.3,796.4 391.1,796.4 391.9,796.5 392.7,796.5 393.5,796.5" fill="none" stroke="#000" stroke-width="1.1" stroke-dasharray="5 3"/>
<polyline points="73.3,798.6 74.1,798.2 74.9,797.4 75.7,796.0 76.5,793.9 77.3,790.9 78.1,786.9 78.9,781.9 79.7,775.8 80.5,768.6 81.3,760.5 82.1,751.5 82.9,741.8 83.7,731.5 84.5,720.8 85.3,709.9 86.1,699.0 86.9,688.4 87.7,678.1 88.6,668.4 89.4,659.5 90.2,651.4 91.0,644.3 91.8,638.2 92.6,633.2 93.4,629.4 94.2,626.7 95.0,625.2 95.8,624.7 96.6,625.3 97.4,626.9 98.2,629.4 99.0,632.7 99.8,636.8 100.6,641.5 101.4,646.7 102.2,652.4 103.0,658.5 103.8,664.9 104.6,671.4 105.4,678.1 106.2,684.8 107.0,691.5 107.8,698.2 108.6,704.7 109.4,711.1 110.2,717.3 111.0,723.3 111.8,729.0 112.6,734.5 113.4,739.7 114.2,744.6 115.0,749.2 115.8,753.5 116.6,757.6 117.4,761.3 118.2,764.8 119.0,768.1 119.8,771.1 120.6,773.8 121.5,776.3 122.3,778.6 123.1,780.7 123.9,782.6 124.7,784.4 125.5,785.9 126.3,787.3 127.1,788.6 127.9,789.8 128.7,790.8 129.5,791.7 130.3,792.5 131.1,793.3 131.9,793.9 132.7,794.5 133.5,795.0 134.3,795.5 135.1,795.9 135.9,796.2 136.7,796.6 137.5,796.8 138.3,797.1 139.1,797.3 139.9,797.5 140.7,797.6 141.5,797.8 142.3,797.9 143.1,798.0 143.9,798.1 144.7,798.2 145.5,798.3 146.3,798.3 147.1,798.4 147.9,798.4 148.7,798.5 149.5,798.5 150.3,798.5 151.1,798.5 151.9,798.6 152.7,798.6 153.6,798.6 154.4,798.6 155.2,798.6 156.0,798.6 156.8,798.7 157.6,798.7 158.4,798.7 159.2,798.7 160.0,798.7 160.8,798.7 161.6,798.7 162.4,798.7 163.2,798.7 164.0,798.7 164.8,798.7 165.6,798.7 166.4,798.7 167.2,798.7 168.0,798.7 168.8,798.7" fill="none" stroke="#000" stroke-width="1.6" stroke-dasharray="1.6 2.4"/>
<polyline points="74.6,798.7 75.4,797.5 76.2,796.3 77.0,795.1 77.8,793.9 78.6,792.7 79.4,791.6 80.2,790.6 81.0,789.6 81.8,788.5 82.6,787.5 83.4,786.5 84.2,785.5 85.0,785.0 85.8,784.6 86.6,784.2 87.4,783.8 88.2,783.4 89.0,783.0 89.8,782.6 90.6,782.2 91.4,781.8 92.2,781.4 93.0,781.0 93.8,780.6 94.6,780.3 95.5,780.1 96.3,779.9 97.1,779.7 97.9,779.5 98.7,779.3 99.5,779.1 100.3,778.9 101.1,778.7 101.9,778.5 102.7,778.2 103.5,778.0 104.3,778.0 105.1,777.9 105.9,777.9 106.7,777.9 107.5,777.8 108.3,777.8 109.1,777.7 109.9,777.7 110.7,777.7 111.5,777.6 112.3,777.6 113.1,777.5 113.9,777.5 114.7,777.5 115.5,777.4 116.3,777.4 117.1,777.4 117.9,777.3 118.7,777.3 119.5,777.4 120.3,777.4 121.1,777.4 121.9,777.5 122.7,777.5 123.5,777.6 124.3,777.6 125.1,777.6 125.9,777.7 126.7,777.7 127.6,777.7 128.4,777.8 129.2,777.8 130.0,777.9 130.8,777.9 131.6,777.9 132.4,778.0 133.2,778.0 134.0,778.1 134.8,778.2 135.6,778.3 136.4,778.4 137.2,778.5 138.0,778.5 138.8,778.6 139.6,778.7 140.4,778.8 141.2,778.9 142.0,779.0 142.8,779.0 143.6,779.1 144.4,779.2 145.2,779.3 146.0,779.4 146.8,779.5 147.6,779.5 148.4,779.6 149.2,779.7 150.0,779.8 150.8,779.9 151.6,780.0 152.4,780.0 153.2,780.1 154.0,780.2 154.8,780.3 155.6,780.4 156.4,780.5 157.2,780.5 158.0,780.6 158.8,780.7 159.7,780.7 160.5,780.8 161.3,780.9 162.1,781.0 162.9,781.0 163.7,781.1 164.5,781.2 165.3,781.2 166.1,781.3 166.9,781.4 167.7,781.4 168.5,781.5 169.3,781.6 170.1,781.7 170.9,781.7 171.7,781.8 172.5,781.9 173.3,782.0 174.1,782.1 174.9,782.2 175.7,782.4 176.5,782.5 177.3,782.6 178.1,782.8 178.9,782.9 179.7,783.0 180.5,783.1 181.3,783.3 182.1,783.4 182.9,783.5 183.7,783.7 184.5,783.8 185.3,783.9 186.1,784.0 186.9,784.2 187.7,784.3 188.5,784.4 189.3,784.6 190.1,784.7 190.9,784.8 191.8,784.9 192.6,785.1 193.4,785.2 194.2,785.3 195.0,785.5 195.8,785.6 196.6,785.7 197.4,785.8 198.2,786.0 199.0,786.1 199.8,786.2 200.6,786.4 201.4,786.5 202.2,786.6 203.0,786.7 203.8,786.9 204.6,787.0 205.4,787.1 206.2,787.3 207.0,787.4 207.8,787.5 208.6,787.6 209.4,787.7 210.2,787.8 211.0,787.9 211.8,788.0 212.6,788.1 213.4,788.2 214.2,788.2 215.0,788.3 215.8,788.4 216.6,788.5 217.4,788.6 218.2,788.7 219.0,788.7 219.8,788.8 220.6,788.9 221.4,789.0 222.2,789.1 223.0,789.1 223.9,789.2 224.7,789.3 225.5,789.4 226.3,789.5 227.1,789.6 227.9,789.6 228.7,789.7 229.5,789.8 230.3,789.9 231.1,790.0 231.9,790.0 232.7,790.1 233.5,790.2 234.3,790.3 235.1,790.4 235.9,790.5 236.7,790.5 237.5,790.6 238.3,790.7 239.1,790.8 239.9,790.9 240.7,790.9 241.5,791.0 242.3,791.1 243.1,791.2 243.9,791.3 244.7,791.4 245.5,791.4 246.3,791.5 247.1,791.6 247.9,791.7 248.7,791.8 249.5,791.9 250.3,791.9 251.1,792.0 251.9,792.0 252.7,792.1 253.5,792.1 254.3,792.1 255.1,792.2 256.0,792.2 256.8,792.3 257.6,792.3 258.4,792.4 259.2,792.4 260.0,792.4 260.8,792.5 261.6,792.5 262.4,792.6 263.2,792.6 264.0,792.7 264.8,792.7 265.6,792.8 266.4,792.8 267.2,792.8 268.0,792.9 268.8,792.9 269.6,793.0 270.4,793.0 271.2,793.1 272.0,793.1 272.8,793.2 273.6,793.2 274.4,793.2 275.2,793.3 276.0,793.3 276.8,793.4 277.6,793.4 278.4,793.5 279.2,793.5 280.0,793.6 280.8,793.6 281.6,793.6 282.4,793.7 283.2,793.7 284.0,793.8 284.8,793.8 285.6,793.9 286.4,793.9 287.2,793.9 288.1,794.0 288.9,794.0 289.7,794.1 290.5,794.1 291.3,794.1 292.1,794.2 292.9,794.2 293.7,794.2 294.5,794.2 295.3,794.3 296.1,794.3 296.9,794.3 297.7,794.4 298.5,794.4 299.3,794.4 300.1,794.4 300.9,794.5 301.7,794.5 302.5,794.5 303.3,794.5 304.1,794.6 304.9,794.6 305.7,794.6 306.5,794.6 307.3,794.7 308.1,794.7 308.9,794.7 309.7,794.8 310.5,794.8 311.3,794.8 312.1,794.8 312.9,794.9 313.7,794.9 314.5,794.9 315.3,794.9 316.1,795.0 316.9,795.0 317.7,795.0 318.5,795.0 319.3,795.1 320.2,795.1 321.0,795.1 321.8,795.2 322.6,795.2 323.4,795.2 324.2,795.2 325.0,795.3 325.8,795.3 326.6,795.3 327.4,795.3 328.2,795.4 329.0,795.4 329.8,795.4 330.6,795.4 331.4,795.4 332.2,795.5 333.0,795.5 333.8,795.5 334.6,795.5 335.4,795.5 336.2,795.5 337.0,795.6 337.8,795.6 338.6,795.6 339.4,795.6 340.2,795.6 341.0,795.6 341.8,795.7 342.6,795.7 343.4,795.7 344.2,795.7 345.0,795.7 345.8,795.7 346.6,795.8 347.4,795.8 348.2,795.8 349.0,795.8 349.8,795.8 350.6,795.8 351.4,795.8 352.3,795.9 353.1,795.9 353.9,795.9 354.7,795.9 355.5,795.9 356.3,795.9 357.1,796.0 357.9,796.0 358.7,796.0 359.5,796.0 360.3,796.0 361.1,796.0 361.9,796.1 362.7,796.1 363.5,796.1 364.3,796.1 365.1,796.1 365.9,796.1 366.7,796.2 367.5,796.2 368.3,796.2 369.1,796.2 369.9,796.2 370.7,796.2 371.5,796.3 372.3,796.3 373.1,796.3 373.9,796.3 374.7,796.3 375.5,796.3 376.3,796.4 377.1,796.4 377.9,796.4 378.7,796.4 379.5,796.4 380.3,796.4 381.1,796.4 381.9,796.5 382.7,796.5 383.5,796.5 384.4,796.5 385.2,796.5 386.0,796.5 386.8,796.6 387.6,796.6 388.4,796.6 389.2,796.6 390.0,796.6 390.8,796.6 391.6,796.7 392.4,796.7 393.2,796.7" fill="none" stroke="#000" stroke-width="1.1" stroke-dasharray="5 2 1.5 2"/>
<polyline points="73.3,798.6 74.1,798.2 74.9,796.9 75.7,794.3 76.5,791.0 77.3,786.8 78.1,781.6 78.9,775.4 79.7,768.3 80.5,760.1 81.3,751.0 82.1,741.0 82.9,730.2 83.7,718.9 84.5,707.3 85.3,696.0 86.1,684.8 86.9,673.7 87.7,663.0 88.6,653.0 89.4,643.6 90.2,635.1 91.0,627.6 91.8,621.1 92.6,615.7 93.4,611.5 94.2,608.5 95.0,606.7 95.8,606.0 96.6,606.4 97.4,607.8 98.2,610.1 99.0,613.2 99.8,617.1 100.6,621.5 101.4,626.6 102.2,632.1 103.0,638.0 103.8,644.1 104.6,650.7 105.4,657.3 106.2,664.0 107.0,670.7 107.8,677.3 108.6,683.8 109.4,690.1 110.2,696.3 111.0,702.2 111.8,707.9 112.6,713.3 113.4,718.5 114.2,723.4 115.0,727.9 115.8,732.2 116.6,736.3 117.4,740.0 118.2,743.4 119.0,746.7 119.8,749.7 120.6,752.5 121.5,755.1 122.3,757.4 123.1,759.6 123.9,761.5 124.7,763.3 125.5,764.9 126.3,766.3 127.1,767.6 127.9,768.8 128.7,769.9 129.5,770.9 130.3,771.7 131.1,772.5 131.9,773.2 132.7,773.8 133.5,774.4 134.3,774.9 135.1,775.4 135.9,775.9 136.7,776.3 137.5,776.6 138.3,776.9 139.1,777.2 139.9,777.5 140.7,777.8 141.5,778.0 142.3,778.2 143.1,778.4 143.9,778.6 144.7,778.7 145.5,778.9 146.3,779.0 147.1,779.2 147.9,779.3 148.7,779.4 149.5,779.5 150.3,779.6 151.1,779.7 151.9,779.9 152.7,780.0 153.6,780.1 154.4,780.2 155.2,780.2 156.0,780.3 156.8,780.4 157.6,780.5 158.4,780.6 159.2,780.7 160.0,780.7 160.8,780.8 161.6,780.9 162.4,781.0 163.2,781.0 164.0,781.1 164.8,781.2 165.6,781.3 166.4,781.3 167.2,781.4 168.0,781.5 168.8,781.5 169.6,781.6 170.4,781.7 171.2,781.8 172.0,781.8 172.8,781.9 173.6,782.0 174.4,782.2 175.2,782.3 176.0,782.4 176.8,782.5 177.6,782.7 178.4,782.8 179.2,782.9 180.0,783.1 180.8,783.2 181.6,783.3 182.4,783.4 183.2,783.6 184.0,783.7 184.8,783.8 185.7,784.0 186.5,784.1 187.3,784.2 188.1,784.3 188.9,784.5 189.7,784.6 190.5,784.7 191.3,784.9 192.1,785.0 192.9,785.1 193.7,785.3 194.5,785.4 195.3,785.5 196.1,785.6 196.9,785.8 197.7,785.9 198.5,786.0 199.3,786.2 200.1,786.3 200.9,786.4 201.7,786.5 202.5,786.7 203.3,786.8 204.1,786.9 204.9,787.1 205.7,787.2 206.5,787.3 207.3,787.4 208.1,787.6 208.9,787.7 209.7,787.8 210.5,787.9 211.3,787.9 212.1,788.0 212.9,788.1 213.7,788.2 214.5,788.3 215.3,788.4 216.1,788.4 216.9,788.5 217.8,788.6 218.6,788.7 219.4,788.8 220.2,788.8 221.0,788.9 221.8,789.0 222.6,789.1 223.4,789.2 224.2,789.3 225.0,789.3 225.8,789.4 226.6,789.5 227.4,789.6 228.2,789.7 229.0,789.8 229.8,789.8 230.6,789.9 231.4,790.0 232.2,790.1 233.0,790.2 233.8,790.2 234.6,790.3 235.4,790.4 236.2,790.5 237.0,790.6 237.8,790.7 238.6,790.7 239.4,790.8 240.2,790.9 241.0,791.0 241.8,791.1 242.6,791.1 243.4,791.2 244.2,791.3 245.0,791.4 245.8,791.5 246.6,791.6 247.4,791.6 248.2,791.7 249.1,791.8 249.9,791.9 250.7,791.9 251.5,792.0 252.3,792.0 253.1,792.1 253.9,792.1 254.7,792.2 255.5,792.2 256.3,792.2 257.1,792.3 257.9,792.3 258.7,792.4 259.5,792.4 260.3,792.5 261.1,792.5 261.9,792.6 262.7,792.6 263.5,792.6 264.3,792.7 265.1,792.7 265.9,792.8 266.7,792.8 267.5,792.9 268.3,792.9 269.1,793.0 269.9,793.0 270.7,793.0 271.5,793.1 272.3,793.1 273.1,793.2 273.9,793.2 274.7,793.3 275.5,793.3 276.3,793.3 277.1,793.4 277.9,793.4 278.7,793.5 279.5,793.5 280.3,793.6 281.2,793.6 282.0,793.7 282.8,793.7 283.6,793.7 284.4,793.8 285.2,793.8 286.0,793.9 286.8,793.9 287.6,794.0 288.4,794.0 289.2,794.1 290.0,794.1 290.8,794.1 291.6,794.2 292.4,794.2 293.2,794.2 294.0,794.2 294.8,794.3 295.6,794.3 296.4,794.3 297.2,794.3 298.0,794.4 298.8,794.4 299.6,794.4 300.4,794.4 301.2,794.5 302.0,794.5 302.8,794.5 303.6,794.6 304.4,794.6 305.2,794.6 306.0,794.6 306.8,794.7 307.6,794.7 308.4,794.7 309.2,794.7 310.0,794.8 310.8,794.8 311.6,794.8 312.4,794.8 313.3,794.9 314.1,794.9 314.9,794.9 315.7,794.9 316.5,795.0 317.3,795.0 318.1,795.0 318.9,795.1 319.7,795.1 320.5,795.1 321.3,795.1 322.1,795.2 322.9,795.2 323.7,795.2 324.5,795.2 325.3,795.3 326.1,795.3 326.9,795.3 327.7,795.3 328.5,795.4 329.3,795.4 330.1,795.4 330.9,795.4 331.7,795.4 332.5,795.5 333.3,795.5 334.1,795.5 334.9,795.5 335.7,795.5 336.5,795.5 337.3,795.6 338.1,795.6 338.9,795.6 339.7,795.6 340.5,795.6 341.3,795.6 342.1,795.7 342.9,795.7 343.7,795.7 344.5,795.7 345.4,795.7 346.2,795.7 347.0,795.8 347.8,795.8 348.6,795.8 349.4,795.8 350.2,795.8 351.0,795.8 351.8,795.9 352.6,795.9 353.4,795.9 354.2,795.9 355.0,795.9 355.8,795.9 356.6,796.0 357.4,796.0 358.2,796.0 359.0,796.0 359.8,796.0 360.6,796.0 361.4,796.1 362.2,796.1 363.0,796.1 363.8,796.1 364.6,796.1 365.4,796.1 366.2,796.1 367.0,796.2 367.8,796.2 368.6,796.2 369.4,796.2 370.2,796.2 371.0,796.2 371.8,796.3 372.6,796.3 373.4,796.3 374.2,796.3 375.0,796.3 375.8,796.3 376.6,796.4 377.5,796.4 378.3,796.4 379.1,796.4 379.9,796.4 380.7,796.4 381.5,796.5 382.3,796.5 383.1,796.5 383.9,796.5 384.7,796.5 385.5,796.5 386.3,796.6 387.1,796.6 387.9,796.6 388.7,796.6 389.5,796.6 390.3,796.6 391.1,796.7 391.9,796.7 392.7,796.7 393.5,796.7" fill="none" stroke="#000" stroke-width="1.4"/>
</g>
<line x1="40" y1="556.5" x2="394.5" y2="556.5" stroke="#000" stroke-width="1.2"/>
<line x1="394" y1="556" x2="394" y2="802.5" stroke="#222" stroke-width="1.1"/>
<line x1="40.2" y1="556" x2="40.2" y2="802.5" stroke="#777" stroke-width="1.4"/>
<line x1="40" y1="802.3" x2="394.5" y2="802.3" stroke="#111" stroke-width="1.3"/>
<line x1="72.5" y1="556.5" x2="72.5" y2="561.0" stroke="#000" stroke-width="1"/>
<line x1="72.5" y1="802" x2="72.5" y2="797.5" stroke="#000" stroke-width="1"/>
<line x1="112.6" y1="556.5" x2="112.6" y2="559.5" stroke="#000" stroke-width="1"/>
<line x1="112.6" y1="802" x2="112.6" y2="799" stroke="#000" stroke-width="1"/>
<line x1="152.8" y1="556.5" x2="152.8" y2="561.0" stroke="#000" stroke-width="1"/>
<line x1="152.8" y1="802" x2="152.8" y2="797.5" stroke="#000" stroke-width="1"/>
<line x1="192.9" y1="556.5" x2="192.9" y2="559.5" stroke="#000" stroke-width="1"/>
<line x1="192.9" y1="802" x2="192.9" y2="799" stroke="#000" stroke-width="1"/>
<line x1="233.0" y1="556.5" x2="233.0" y2="561.0" stroke="#000" stroke-width="1"/>
<line x1="233.0" y1="802" x2="233.0" y2="797.5" stroke="#000" stroke-width="1"/>
<line x1="273.1" y1="556.5" x2="273.1" y2="559.5" stroke="#000" stroke-width="1"/>
<line x1="273.1" y1="802" x2="273.1" y2="799" stroke="#000" stroke-width="1"/>
<line x1="313.2" y1="556.5" x2="313.2" y2="561.0" stroke="#000" stroke-width="1"/>
<line x1="313.2" y1="802" x2="313.2" y2="797.5" stroke="#000" stroke-width="1"/>
<line x1="353.4" y1="556.5" x2="353.4" y2="559.5" stroke="#000" stroke-width="1"/>
<line x1="353.4" y1="802" x2="353.4" y2="799" stroke="#000" stroke-width="1"/>
<line x1="40" y1="774.9" x2="43.5" y2="774.9" stroke="#222" stroke-width="1"/>
<line x1="390.5" y1="774.9" x2="394" y2="774.9" stroke="#222" stroke-width="1"/>
<line x1="40" y1="747.6" x2="45.3" y2="747.6" stroke="#222" stroke-width="1"/>
<line x1="388.7" y1="747.6" x2="394" y2="747.6" stroke="#222" stroke-width="1"/>
<line x1="40" y1="720.2" x2="43.5" y2="720.2" stroke="#222" stroke-width="1"/>
<line x1="390.5" y1="720.2" x2="394" y2="720.2" stroke="#222" stroke-width="1"/>
<line x1="40" y1="692.9" x2="45.3" y2="692.9" stroke="#222" stroke-width="1"/>
<line x1="388.7" y1="692.9" x2="394" y2="692.9" stroke="#222" stroke-width="1"/>
<line x1="40" y1="665.5" x2="43.5" y2="665.5" stroke="#222" stroke-width="1"/>
<line x1="390.5" y1="665.5" x2="394" y2="665.5" stroke="#222" stroke-width="1"/>
<line x1="40" y1="638.2" x2="45.3" y2="638.2" stroke="#222" stroke-width="1"/>
<line x1="388.7" y1="638.2" x2="394" y2="638.2" stroke="#222" stroke-width="1"/>
<line x1="40" y1="610.8" x2="43.5" y2="610.8" stroke="#222" stroke-width="1"/>
<line x1="390.5" y1="610.8" x2="394" y2="610.8" stroke="#222" stroke-width="1"/>
<line x1="40" y1="583.5" x2="45.3" y2="583.5" stroke="#222" stroke-width="1"/>
<line x1="388.7" y1="583.5" x2="394" y2="583.5" stroke="#222" stroke-width="1"/>
<text x="72.5" y="817.3" font-size="13.8" text-anchor="middle" font-family="Liberation Sans, sans-serif" >0</text>
<text x="152.8" y="817.3" font-size="13.8" text-anchor="middle" font-family="Liberation Sans, sans-serif" >5</text>
<text x="233.0" y="817.3" font-size="13.8" text-anchor="middle" font-family="Liberation Sans, sans-serif" >10</text>
<text x="313.2" y="817.3" font-size="13.8" text-anchor="middle" font-family="Liberation Sans, sans-serif" >15</text>
<text x="393.5" y="817.3" font-size="13.8" text-anchor="middle" font-family="Liberation Sans, sans-serif" >20</text>
<text x="213.5" y="839.6" font-size="14.6" text-anchor="middle" font-family="Liberation Sans, sans-serif" >energy [eV]</text>
<text transform="translate(13,682.3) rotate(-90)" font-size="14.8" text-anchor="middle" font-family="Liberation Sans, sans-serif">ion current (a.u.)</text>
<text x="365.3" y="591.5" font-size="22.5" text-anchor="middle" font-family="Liberation Sans, sans-serif" textLength="24" lengthAdjust="spacingAndGlyphs">(c)</text>
<text x="136.9" y="610.8" font-size="24" font-weight="bold" font-family="Liberation Sans, sans-serif">Ti<tspan font-size="15.5" dy="-7.5" dx="0.8">+</tspan></text>
<line x1="228.5" y1="573.8" x2="255.2" y2="573.8" stroke="#aaa" stroke-width="1.8"/>
<circle cx="241.8" cy="573.8" r="2.6" fill="#fff" stroke="#222" stroke-width="0.8"/>
<text x="258.8" y="578.2" font-size="13.2" letter-spacing="-0.25" font-family="Liberation Sans, sans-serif">60 µs</text>
<line x1="228.5" y1="588.6" x2="255.2" y2="588.6" stroke="#aaa" stroke-width="1.8"/>
<circle cx="241.8" cy="588.6" r="2.8" fill="#000"/>
<text x="258.8" y="593" font-size="13.2" letter-spacing="-0.25" font-family="Liberation Sans, sans-serif">100µs</text>
<line x1="228.5" y1="603.3" x2="255.2" y2="603.3" stroke="#777" stroke-width="1.0"/>
<rect x="239.6" y="601.1" width="4.4" height="4.4" fill="#fff" stroke="#444" stroke-width="0.8"/>
<text x="258.8" y="607.7" font-size="13.2" letter-spacing="-0.25" font-family="Liberation Sans, sans-serif">220µs</text>
<line x1="226.7" y1="618.8" x2="253" y2="618.8" stroke="#000" stroke-width="1.2" stroke-dasharray="6 3.6"/>
<text x="259.8" y="622.4" font-size="13.2" letter-spacing="-0.25" font-family="Liberation Sans, sans-serif">1: Maxw. T<tspan font-size="9" dy="3.5" letter-spacing="-0.2">i</tspan><tspan dy="-3.5"> = 0.85 eV,</tspan></text>
<text x="274.3" y="641" font-size="13.2" letter-spacing="-0.25" font-family="Liberation Sans, sans-serif">E<tspan font-size="9" dy="3.5" letter-spacing="-0.2">shift</tspan><tspan dy="-3.5"> = 4.3 eV</tspan></text>
<line x1="227" y1="656.5" x2="253" y2="656.5" stroke="#000" stroke-width="1.4" stroke-dasharray="1.5 3"/>
<text x="259.8" y="660" font-size="13.2" letter-spacing="-0.25" font-family="Liberation Sans, sans-serif">2: Maxw. T<tspan font-size="9" dy="3.5" letter-spacing="-0.2">i</tspan><tspan dy="-3.5"> = 0.15 eV,</tspan></text>
<text x="274.3" y="678.8" font-size="13.2" letter-spacing="-0.25" font-family="Liberation Sans, sans-serif">E<tspan font-size="9" dy="3.5" letter-spacing="-0.2">shift</tspan><tspan dy="-3.5"> = 1.3 eV</tspan></text>
<line x1="227.3" y1="694.6" x2="251.2" y2="694.6" stroke="#000" stroke-width="1.2" stroke-dasharray="6 2.5 1.5 2.5"/>
<text x="259.4" y="698" font-size="13.2" letter-spacing="-0.25" font-family="Liberation Sans, sans-serif">3: Thompson</text>
<text x="277.5" y="713.5" font-size="13.2" letter-spacing="-0.25" font-family="Liberation Sans, sans-serif">E<tspan font-size="9" dy="3.5" letter-spacing="-0.2">SBE</tspan><tspan dy="-3.5"> = 4.9 eV</tspan></text>
<line x1="227.3" y1="728.1" x2="255.6" y2="728.1" stroke="#000" stroke-width="1.3"/>
<text x="258.5" y="732.5" font-size="13.2" letter-spacing="-0.25" font-family="Liberation Sans, sans-serif">sum 2+3</text>
</svg>
</body></html>
